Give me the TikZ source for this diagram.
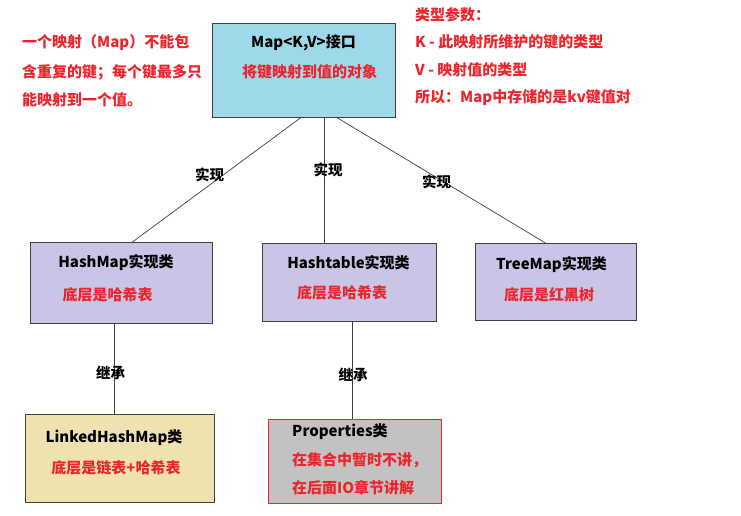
\documentclass[tikz,border=0pt]{standalone}
\usepackage{fontspec}
\setmainfont{Noto Sans CJK SC}
\definecolor{txtred}{RGB}{236,36,44}
\definecolor{mapblue}{RGB}{158,217,234}
\definecolor{lav}{RGB}{202,196,230}
\definecolor{sand}{RGB}{238,226,176}
\definecolor{propgray}{RGB}{194,194,194}
\definecolor{edgegray}{RGB}{64,64,64}
\tikzset{
  box/.style={draw=edgegray, line width=0.9pt, inner sep=0pt, anchor=north west},
  ttl/.style={font=\fontsize{15}{18}\selectfont\bfseries, text=black, inner sep=0pt},
  red/.style={font=\fontsize{15}{18}\selectfont\bfseries, text=txtred, inner sep=0pt},
  lbl/.style={font=\fontsize{14.5}{18}\selectfont\bfseries, text=black, inner sep=0pt},
  conn/.style={draw=black!75, line width=0.7pt}
}
\begin{document}
\begin{tikzpicture}[x=1pt,y=-1pt]
\useasboundingbox (0,0) rectangle (741,515);
% boxes
\node[box, fill=mapblue, minimum width=183pt, minimum height=94pt] (map) at (212,23) {};
\node[box, fill=lav, minimum width=182pt, minimum height=81pt] (hashmap) at (30,242) {};
\node[box, fill=lav, minimum width=174pt, minimum height=78pt] (hashtable) at (262,243) {};
\node[box, fill=lav, minimum width=161pt, minimum height=77pt] (treemap) at (475,243) {};
\node[box, fill=sand, minimum width=189pt, minimum height=88pt] (linked) at (25,414) {};
\node[box, draw=txtred, fill=propgray, minimum width=173pt, minimum height=84pt] (props) at (268,419) {};
% connectors
\draw[conn] ([xshift=-3.5pt]map.south) -- ([xshift=11pt]hashmap.north);
\draw[conn] ([xshift=20.5pt]map.south) -- ([xshift=-25pt]hashtable.north);
\draw[conn] ([xshift=33.5pt]map.south) -- ([xshift=-10.5pt]treemap.north);
\draw[conn] ([xshift=-7pt]hashmap.south) -- ([xshift=-5.5pt]linked.north);
\draw[conn] ([xshift=3pt]hashtable.south) -- ([xshift=-2.5pt]props.north);
% connector labels
\node[lbl] (l1) at (209.5,175) {实现};
\node[lbl] (l2) at (328,170) {实现};
\node[lbl] (l3) at (436.5,182) {实现};
\node[lbl] (l4) at (110.5,373) {继承};
\node[lbl] (l5) at (353,375) {继承};
% box texts
\node[ttl] (mapt) at (303.5,43) {Map<K,V>接口};
\node[red] (mapr) at (309.5,72) {将键映射到值的对象};
\node[ttl] (hmt) at (116,263) {HashMap实现类};
\node[red] (hmr) at (107.5,295) {底层是哈希表};
\node[ttl] (htt) at (348.5,263) {Hashtable实现类};
\node[red] (htr) at (342,293) {底层是哈希表};
\node[ttl] (tmt) at (551.5,265) {TreeMap实现类};
\node[red] (tmr) at (549,295) {底层是红黑树};
\node[ttl] (lkt) at (114,438) {LinkedHashMap类};
\node[red] (lkr) at (116,468) {底层是链表+哈希表};
\node[ttl, anchor=west] (prt) at (292,432) {Properties类};
\node[red, anchor=west] (prr1) at (292,460) {在集合中暂时不讲，};
\node[red, anchor=west] (prr2) at (292,488) {在后面IO章节讲解};
% left note
\node[red, anchor=west] (n1) at (22,43) {一个映射（Map）不能包};
\node[red, anchor=west] (n2) at (22,72) {含重复的键；每个键最多只};
\node[red, anchor=west] (n3) at (22,100) {能映射到一个值。};
% right note
\node[red, anchor=west] (r1) at (415,15) {类型参数：};
\node[red, anchor=west] (r2) at (415,42) {K - 此映射所维护的键的类型};
\node[red, anchor=west] (r3) at (415,70) {V - 映射值的类型};
\node[red, anchor=west] (r4) at (415,98) {所以：Map中存储的是kv键值对};
\end{tikzpicture}
\end{document}
